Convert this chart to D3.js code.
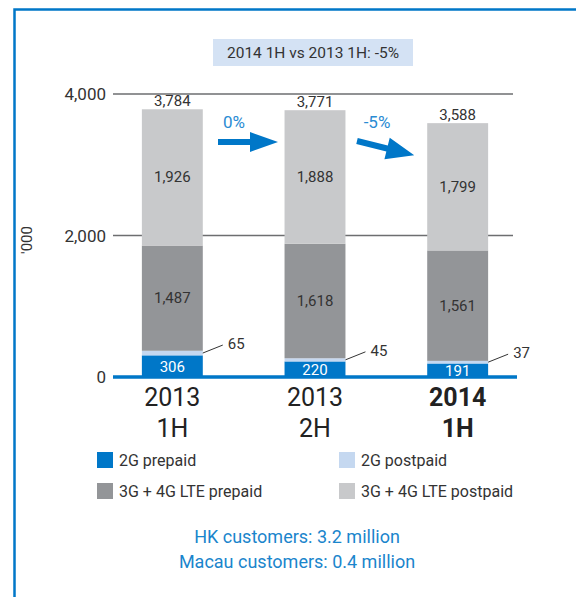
<!DOCTYPE html>
<html>
<head>
<meta charset="utf-8">
<script src="https://cdn.jsdelivr.net/npm/d3@7"></script>
<style>
 body { margin: 0; background: #fff; }
 text { font-family: "Roboto", "Liberation Sans", sans-serif; }
</style>
</head>
<body>
<script>
// chart data
var periods   = ['2013 1H', '2013 2H', '2014 1H']
var years     = ['2013', '2013', '2014']
var halves    = ['1H', '2H', '1H']
var series    = ['2G prepaid', '2G postpaid', '3G + 4G LTE prepaid', '3G + 4G LTE postpaid']
var prepaid2G  = [306, 220, 191]
var postpaid2G = [65, 45, 37]
var prepaid3G  = [1487, 1618, 1561]
var postpaid3G = [1926, 1888, 1799]
var totals     = [3784, 3771, 3588]
var yTicks     = [0, 2000, 4000]
var changes    = ['0%', '-5%']
var title      = '2014 1H vs 2013 1H: -5%'
var notes      = ['HK customers: 3.2 million', 'Macau customers: 0.4 million']

var W = 576, H = 597
var blue = '#0077c8'
var colors = [blue, '#c5d8f0', '#939598', '#c8c9cb']

var svg = d3.select('body').append('svg').attr('width', W).attr('height', H)

// frame
svg.append('path').attr('d', 'M14.5,597 V9.5 H576').attr('fill', 'none')
   .attr('stroke', blue).attr('stroke-width', 2.5)

var x = d3.scaleBand().domain(periods).range([101, 529]).paddingInner(0.573).paddingOuter(0.2865)
var y = d3.scaleLinear().domain([0, 4000]).range([377, 94])

// title box
svg.append('rect').attr('x', 213).attr('y', 39).attr('width', 200).attr('height', 27).attr('fill', '#d4e2f4')
svg.append('text').attr('x', 313).attr('y', 58).attr('text-anchor', 'middle')
   .attr('font-size', 15.5).attr('fill', '#333').text(title)

// grid + y labels
var grid = svg.append('g')
grid.selectAll('line').data(yTicks).enter().append('line')
  .attr('x1', 113).attr('x2', function(d) { return d === 0 ? 517 : 513 })
  .attr('y1', function(d) { return y(d) }).attr('y2', function(d) { return y(d) })
  .attr('stroke', function(d) { return d === 0 ? blue : '#6d6e70' })
  .attr('stroke-width', function(d) { return d === 0 ? 3 : 1.3 })
grid.selectAll('text').data(yTicks).enter().append('text')
  .attr('x', 106).attr('y', function(d) { return y(d) + 6 }).attr('text-anchor', 'end')
  .attr('font-size', 17).attr('fill', '#333').text(d3.format(','))

svg.append('text').attr('transform', 'translate(32,240) rotate(-90)').attr('text-anchor', 'middle')
   .attr('font-size', 15).attr('fill', '#333').text("'000")

// stacked bars
var rows = periods.map(function(p, i) {
  return { period: p, a: prepaid2G[i], b: postpaid2G[i], c: prepaid3G[i], d: postpaid3G[i] }
})
var stack = d3.stack().keys(['a', 'b', 'c', 'd'])(rows)

var layers = svg.append('g').selectAll('g').data(stack).enter().append('g')
  .attr('fill', function(d, i) { return colors[i] })
layers.selectAll('rect').data(function(d) { return d }).enter().append('rect')
  .attr('x', function(d) { return x(d.data.period) })
  .attr('width', x.bandwidth())
  .attr('y', function(d) { return y(d[1]) })
  .attr('height', function(d) { return y(d[0]) - y(d[1]) })

// redraw baseline over bars
svg.append('line').attr('x1', 113).attr('x2', 517).attr('y1', y(0)).attr('y2', y(0))
   .attr('stroke', blue).attr('stroke-width', 3)

// inner labels (layers a, c, d)
;[0, 2, 3].forEach(function(k) {
  svg.append('g').selectAll('text').data(stack[k]).enter().append('text')
    .attr('x', function(d) { return x(d.data.period) + x.bandwidth() / 2 })
    .attr('y', function(d) { return (y(d[0]) + y(d[1])) / 2 + (k === 0 ? 6 : 5) })
    .attr('text-anchor', 'middle').attr('font-size', 15)
    .attr('fill', k === 0 ? '#fff' : '#333')
    .text(function(d) { return d3.format(',')(d[1] - d[0]) })
})

// 2G postpaid callouts
var call = svg.append('g').selectAll('g').data(stack[1]).enter().append('g')
call.append('line')
  .attr('x1', function(d) { return x(d.data.period) + x.bandwidth() })
  .attr('y1', function(d) { return (y(d[0]) + y(d[1])) / 2 })
  .attr('x2', function(d) { return x(d.data.period) + x.bandwidth() + 20 })
  .attr('y2', function(d) { return (y(d[0]) + y(d[1])) / 2 - 8 })
  .attr('stroke', '#333').attr('stroke-width', 1)
call.append('text')
  .attr('x', function(d) { return x(d.data.period) + x.bandwidth() + 25 })
  .attr('y', function(d) { return (y(d[0]) + y(d[1])) / 2 - 4 })
  .attr('font-size', 15).attr('fill', '#333')
  .text(function(d) { return d[1] - d[0] })

// totals
svg.append('g').selectAll('text').data(periods).enter().append('text')
  .attr('x', function(d) { return x(d) + x.bandwidth() / 2 })
  .attr('y', function(d, i) { return y(totals[i]) - 3 })
  .attr('text-anchor', 'middle').attr('font-size', 15).attr('fill', '#333')
  .text(function(d, i) { return d3.format(',')(totals[i]) })

// category labels
var cats = svg.append('g').selectAll('g').data(periods).enter().append('g')
  .attr('font-weight', function(d, i) { return i === 2 ? 'bold' : 'normal' })
cats.append('text').attr('x', function(d) { return x(d) + x.bandwidth() / 2 }).attr('y', 406)
  .attr('text-anchor', 'middle').attr('font-size', 25).attr('fill', '#222')
  .text(function(d, i) { return years[i] })
cats.append('text').attr('x', function(d) { return x(d) + x.bandwidth() / 2 }).attr('y', 437)
  .attr('text-anchor', 'middle').attr('font-size', 25).attr('fill', '#222')
  .text(function(d, i) { return halves[i] })

// change arrows
svg.append('text').attr('x', 234).attr('y', 128).attr('text-anchor', 'middle')
   .attr('font-size', 17).attr('fill', '#2a8bd3').text(changes[0])
svg.append('path').attr('d', 'M218,139 H250 V132 L278,142 L250,152 V145 H218 Z').attr('fill', blue)

svg.append('text').attr('x', 377).attr('y', 128).attr('text-anchor', 'middle')
   .attr('font-size', 17).attr('fill', '#2a8bd3').text(changes[1])
svg.append('g').attr('transform', 'translate(357,141) rotate(14)')
   .append('path').attr('d', 'M0,-3 H31 V-11 L59,0 L31,11 V3 H0 Z').attr('fill', blue)

// legend
var legend = svg.append('g').selectAll('g').data(series).enter().append('g')
  .attr('transform', function(d, i) { return 'translate(' + (i % 2 ? 339 : 97) + ',' + (i < 2 ? 452 : 483) + ')' })
legend.append('rect').attr('width', 16).attr('height', 16).attr('fill', function(d, i) { return colors[i] })
legend.append('text').attr('x', 22).attr('y', 14).attr('font-size', 16).attr('fill', '#333').text(function(d) { return d })

// footnotes
svg.append('g').selectAll('text').data(notes).enter().append('text')
  .attr('x', 297).attr('y', function(d, i) { return 543 + i * 25 })
  .attr('text-anchor', 'middle').attr('font-size', 18).attr('fill', '#1a85cc').text(function(d) { return d })
</script>
</body>
</html>
